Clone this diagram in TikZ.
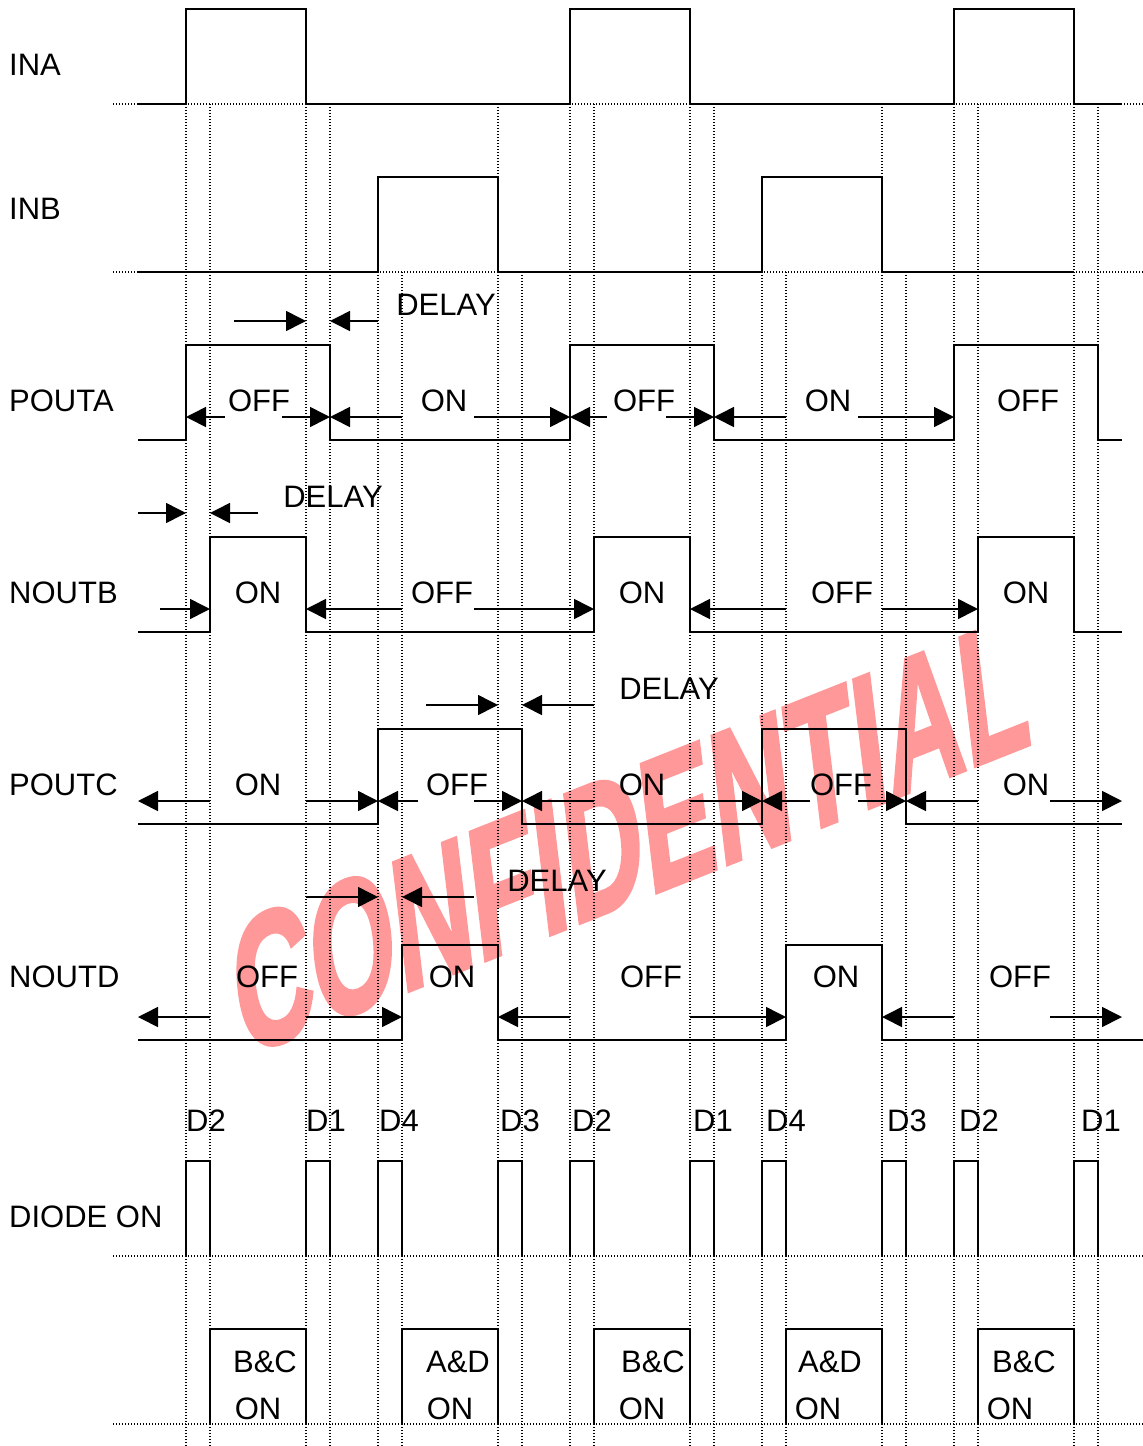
\documentclass[tikz,border=0pt]{standalone}
\usepackage{fontspec}
\setmainfont{Liberation Sans}
\newfontfamily\stampfont{Liberation Sans}[FakeBold=2.5]
\usetikzlibrary{arrows.meta}
\definecolor{stamp}{HTML}{FF9999}

\begin{document}
\begin{tikzpicture}[x=1pt, y=-1pt,
  sig/.style={line width=1.6pt},
  grid/.style={line width=1.2pt, dash pattern=on 1.2pt off 1.8pt},
  arr/.style={line width=1.6pt, -{Triangle[length=20pt, width=20pt]}},
  txt/.style={inner sep=0pt, font=\fontsize{31}{31}\selectfont}]

  \useasboundingbox (0, 0) rectangle (1143, 1446);

  % watermark behind everything
  \node[text=stamp, inner sep=0pt, font=\fontsize{185}{185}\stampfont\bfseries,
        cm={0.574, 0.228, -0.12, 1, (0, 0)}] (stamp) at (630, 836) {CONFIDENTIAL};

  % dotted guides
  \draw[grid] (113, 104) -- (1143, 104);
  \draw[grid] (113, 272) -- (1143, 272);
  \draw[grid] (113, 1256) -- (1143, 1256);
  \draw[grid] (113, 1424) -- (1143, 1424);

  \draw[grid] (186, 104) -- (186, 1446) (210, 104) -- (210, 1446);
  \draw[grid] (306, 104) -- (306, 1446) (330, 104) -- (330, 1446);
  \draw[grid] (378, 272) -- (378, 1446) (402, 272) -- (402, 1446);
  \draw[grid] (498, 104) -- (498, 1446) (522, 272) -- (522, 1446);
  \draw[grid] (570, 104) -- (570, 1446) (594, 104) -- (594, 1446);
  \draw[grid] (690, 104) -- (690, 1446) (714, 104) -- (714, 1446);
  \draw[grid] (762, 272) -- (762, 1446) (786, 272) -- (786, 1446);
  \draw[grid] (882, 104) -- (882, 1446) (906, 272) -- (906, 1446);
  \draw[grid] (954, 104) -- (954, 1446) (978, 104) -- (978, 1446);
  \draw[grid] (1074, 104) -- (1074, 1446) (1098, 104) -- (1098, 1446);

  % row names
  \node[txt, anchor=west] (ina) at (9, 65) {INA};
  \node[txt, anchor=west] (inb) at (9, 209) {INB};
  \node[txt, anchor=west] (pouta) at (9, 401) {POUTA};
  \node[txt, anchor=west] (noutb) at (9, 593) {NOUTB};
  \node[txt, anchor=west] (poutc) at (9, 785) {POUTC};
  \node[txt, anchor=west] (noutd) at (9, 977) {NOUTD};
  \node[txt, anchor=west] (diode) at (9, 1217) {DIODE ON};

  % waveforms
  \draw[sig] (138, 104) -- (186, 104) -- (186, 9) -- (306, 9) -- (306, 104) -- (570, 104) -- (570, 9)
    -- (690, 9) -- (690, 104) -- (954, 104) -- (954, 9) -- (1074, 9) -- (1074, 104) -- (1122, 104);
  \draw[sig] (138, 272) -- (378, 272) -- (378, 177) -- (498, 177) -- (498, 272) -- (762, 272)
    -- (762, 177) -- (882, 177) -- (882, 272) -- (1074, 272);
  \draw[sig] (138, 440) -- (186, 440) -- (186, 345) -- (330, 345) -- (330, 440) -- (570, 440) -- (570, 345)
    -- (714, 345) -- (714, 440) -- (954, 440) -- (954, 345) -- (1098, 345) -- (1098, 440) -- (1122, 440);
  \draw[sig] (138, 632) -- (210, 632) -- (210, 537) -- (306, 537) -- (306, 632) -- (594, 632) -- (594, 537)
    -- (690, 537) -- (690, 632) -- (978, 632) -- (978, 537) -- (1074, 537) -- (1074, 632) -- (1122, 632);
  \draw[sig] (138, 824) -- (378, 824) -- (378, 729) -- (522, 729) -- (522, 824) -- (762, 824)
    -- (762, 729) -- (906, 729) -- (906, 824) -- (1122, 824);
  \draw[sig] (138, 1040) -- (402, 1040) -- (402, 945) -- (498, 945) -- (498, 1040) -- (786, 1040)
    -- (786, 945) -- (882, 945) -- (882, 1040) -- (1143, 1040);

  % diode pulses
  \draw[sig] (186, 1256) -- (186, 1161) -- (210, 1161) -- (210, 1256);
  \draw[sig] (306, 1256) -- (306, 1161) -- (330, 1161) -- (330, 1256);
  \draw[sig] (378, 1256) -- (378, 1161) -- (402, 1161) -- (402, 1256);
  \draw[sig] (498, 1256) -- (498, 1161) -- (522, 1161) -- (522, 1256);
  \draw[sig] (570, 1256) -- (570, 1161) -- (594, 1161) -- (594, 1256);
  \draw[sig] (690, 1256) -- (690, 1161) -- (714, 1161) -- (714, 1256);
  \draw[sig] (762, 1256) -- (762, 1161) -- (786, 1161) -- (786, 1256);
  \draw[sig] (882, 1256) -- (882, 1161) -- (906, 1161) -- (906, 1256);
  \draw[sig] (954, 1256) -- (954, 1161) -- (978, 1161) -- (978, 1256);
  \draw[sig] (1074, 1256) -- (1074, 1161) -- (1098, 1161) -- (1098, 1256);

  \node[txt, anchor=west] (d2a) at (186, 1121) {D2};
  \node[txt, anchor=west] (d1a) at (306, 1121) {D1};
  \node[txt, anchor=west] (d4a) at (379, 1121) {D4};
  \node[txt, anchor=west] (d3a) at (500, 1121) {D3};
  \node[txt, anchor=west] (d2b) at (572, 1121) {D2};
  \node[txt, anchor=west] (d1b) at (693, 1121) {D1};
  \node[txt, anchor=west] (d4b) at (766, 1121) {D4};
  \node[txt, anchor=west] (d3b) at (887, 1121) {D3};
  \node[txt, anchor=west] (d2c) at (959, 1121) {D2};
  \node[txt, anchor=west] (d1c) at (1081, 1121) {D1};

  % switch pairs
  \draw[sig] (210, 1424) -- (210, 1329) -- (306, 1329) -- (306, 1424);
  \draw[sig] (402, 1424) -- (402, 1329) -- (498, 1329) -- (498, 1424);
  \draw[sig] (594, 1424) -- (594, 1329) -- (690, 1329) -- (690, 1424);
  \draw[sig] (786, 1424) -- (786, 1329) -- (882, 1329) -- (882, 1424);
  \draw[sig] (978, 1424) -- (978, 1329) -- (1074, 1329) -- (1074, 1424);

  \node[txt] (bc1) at (265, 1362) {B\&C};
  \node[txt] (bc1on) at (258, 1409) {ON};
  \node[txt] (ad1) at (458, 1362) {A\&D};
  \node[txt] (ad1on) at (450, 1409) {ON};
  \node[txt] (bc2) at (653, 1362) {B\&C};
  \node[txt] (bc2on) at (642, 1409) {ON};
  \node[txt] (ad2) at (830, 1362) {A\&D};
  \node[txt] (ad2on) at (818, 1409) {ON};
  \node[txt] (bc3) at (1024, 1362) {B\&C};
  \node[txt] (bc3on) at (1010, 1409) {ON};

  % POUTA
  \node[txt] (delaya) at (446, 305) {DELAY};
  \draw[arr] (234, 321) -- (306, 321);
  \draw[arr] (378, 321) -- (330, 321);
  \node[txt] (a1) at (259, 401) {OFF};
  \node[txt] (a2) at (444, 401) {ON};
  \node[txt] (a3) at (644, 401) {OFF};
  \node[txt] (a4) at (828, 401) {ON};
  \node[txt] (a5) at (1028, 401) {OFF};
  \draw[arr] (225, 417) -- (186, 417);
  \draw[arr] (282, 417) -- (330, 417);
  \draw[arr] (402, 417) -- (330, 417);
  \draw[arr] (474, 417) -- (570, 417);
  \draw[arr] (607, 417) -- (570, 417);
  \draw[arr] (666, 417) -- (714, 417);
  \draw[arr] (786, 417) -- (714, 417);
  \draw[arr] (858, 417) -- (954, 417);

  % NOUTB
  \node[txt] (delayb) at (333, 497) {DELAY};
  \draw[arr] (138, 513) -- (186, 513);
  \draw[arr] (258, 513) -- (210, 513);
  \node[txt] (b1) at (258, 593) {ON};
  \node[txt] (b2) at (442, 593) {OFF};
  \node[txt] (b3) at (642, 593) {ON};
  \node[txt] (b4) at (842, 593) {OFF};
  \node[txt] (b5) at (1026, 593) {ON};
  \draw[arr] (160, 609) -- (210, 609);
  \draw[arr] (402, 609) -- (306, 609);
  \draw[arr] (474, 609) -- (594, 609);
  \draw[arr] (786, 609) -- (690, 609);
  \draw[arr] (882, 609) -- (978, 609);

  % POUTC
  \node[txt] (delayc) at (669, 689) {DELAY};
  \draw[arr] (426, 705) -- (498, 705);
  \draw[arr] (594, 705) -- (522, 705);
  \node[txt] (c1) at (258, 785) {ON};
  \node[txt] (c2) at (457, 785) {OFF};
  \node[txt] (c3) at (642, 785) {ON};
  \node[txt] (c4) at (841, 785) {OFF};
  \node[txt] (c5) at (1026, 785) {ON};
  \draw[arr] (210, 801) -- (138, 801);
  \draw[arr] (306, 801) -- (378, 801);
  \draw[arr] (418, 801) -- (378, 801);
  \draw[arr] (474, 801) -- (522, 801);
  \draw[arr] (594, 801) -- (522, 801);
  \draw[arr] (690, 801) -- (762, 801);
  \draw[arr] (810, 801) -- (762, 801);
  \draw[arr] (858, 801) -- (906, 801);
  \draw[arr] (978, 801) -- (906, 801);
  \draw[arr] (1050, 801) -- (1122, 801);

  % NOUTD
  \node[txt] (delayd) at (557, 881) {DELAY};
  \draw[arr] (306, 897) -- (378, 897);
  \draw[arr] (474, 897) -- (402, 897);
  \node[txt] (d1) at (267, 977) {OFF};
  \node[txt] (d2) at (452, 977) {ON};
  \node[txt] (d3) at (651, 977) {OFF};
  \node[txt] (d4) at (836, 977) {ON};
  \node[txt] (d5) at (1020, 977) {OFF};
  \draw[arr] (210, 1017) -- (138, 1017);
  \draw[arr] (306, 1017) -- (402, 1017);
  \draw[arr] (570, 1017) -- (498, 1017);
  \draw[arr] (690, 1017) -- (786, 1017);
  \draw[arr] (954, 1017) -- (882, 1017);
  \draw[arr] (1050, 1017) -- (1122, 1017);

\end{tikzpicture}
\end{document}
